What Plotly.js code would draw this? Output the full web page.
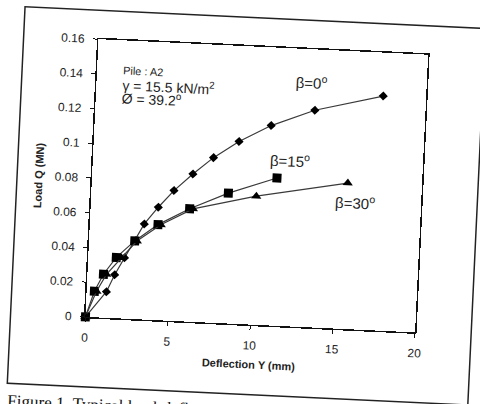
<!DOCTYPE html>
<html>
<head>
<meta charset="utf-8">
<script src="https://cdn.plot.ly/plotly-3.0.1.min.js"></script>
<style>
  html, body { margin:0; padding:0; width:480px; height:404px; overflow:hidden; background:#fff; }
  #chart { position:absolute; left:-20px; top:-20px; width:520px; height:460px;
           transform-origin:260px 222px; transform:rotate(2.7deg); }
</style>
</head>
<body>
<div id="chart"></div>
<script>
// Deflection Y (mm) and Load Q (MN) for each inclination
const defl0  = [0, 1.2, 1.65, 2.2, 2.8, 3.3, 4.1, 5.0, 6.1, 7.3, 8.8, 10.7, 13.3, 17.4];
const load0  = [0, 0.015, 0.025, 0.035, 0.045, 0.055, 0.065, 0.075, 0.085, 0.095, 0.105, 0.115, 0.125, 0.135];
const defl15 = [0, 0.47, 0.97, 1.7, 2.77, 4.13, 6.0, 8.3, 11.2];
const load15 = [0, 0.015, 0.025, 0.035, 0.045, 0.055, 0.065, 0.075, 0.085];
const defl30 = [0, 0.6, 1.15, 2.0, 2.9, 4.3, 6.2, 10.0, 15.5];
const load30 = [0, 0.015, 0.025, 0.035, 0.045, 0.055, 0.065, 0.074, 0.084];

const xTickVals = [0, 5, 10, 15, 20];
const xTickText = ['0', '5', '10', '15', '20'];
const yTickVals = [0, 0.02, 0.04, 0.06, 0.08, 0.1, 0.12, 0.14, 0.16];
const yTickText = ['0', '0.02', '0.04', '0.06', '0.08', '0.1', '0.12', '0.14', '0.16'];

const seriesNames = ['β=0<sup>o</sup>', 'β=15<sup>o</sup>', 'β=30<sup>o</sup>'];
const infoLines = ['Pile : A2', 'γ = 15.5 kN/m<sup>2</sup>', 'Ø = 39.2<sup>o</sup>'];
const caption = 'Figure 1. Typical load-deflection curves';

const lineStyle = {color:'#3a3a3a', width:1.2};
const traces = [
  {x:defl0, y:load0, name:'β=0º', mode:'lines+markers', line:lineStyle,
   marker:{symbol:'diamond', size:7, color:'#000'}, cliponaxis:false},
  {x:defl15, y:load15, name:'β=15º', mode:'lines+markers', line:lineStyle,
   marker:{symbol:'square', size:9, color:'#000'}, cliponaxis:false},
  {x:defl30, y:load30, name:'β=30º', mode:'lines+markers', line:lineStyle,
   marker:{symbol:'triangle-up', size:9, color:'#000'}, cliponaxis:false}
];

const txt = {family:'Liberation Sans, Arial, sans-serif', color:'#222'};
const lab = {family:txt.family, size:15, color:'#222'};
const layout = {
  width:520, height:460,
  margin:{l:111, r:79, t:66, b:116},
  paper_bgcolor:'#fff', plot_bgcolor:'#fff',
  showlegend:false,
  font:txt,
  xaxis:{
    range:[0,20], tickvals:xTickVals, ticktext:xTickText,
    showgrid:false, zeroline:false, showline:true, linecolor:'#111', linewidth:1.5, mirror:true,
    ticks:'outside', ticklen:4, tickcolor:'#111', ticklabelstandoff:5,
    tickfont:{family:txt.family, size:12, color:'#222'},
    title:{text:'<b>Deflection Y (mm)</b>', font:{family:txt.family, size:11, color:'#222'}, standoff:9}
  },
  yaxis:{
    range:[0,0.16], tickvals:yTickVals, ticktext:yTickText,
    showgrid:false, zeroline:false, showline:true, linecolor:'#111', linewidth:1.5, mirror:true,
    ticks:'outside', ticklen:4, tickcolor:'#111', ticklabelstandoff:6,
    tickfont:{family:txt.family, size:12, color:'#222'},
    title:{text:'<b>Load Q (MN)</b>', font:{family:txt.family, size:11, color:'#222'}, standoff:9}
  },
  annotations:[
    {x:13.05, y:0.1412, xref:'x', yref:'y', text:seriesNames[0], showarrow:false, font:lab},
    {x:11.94, y:0.0957, xref:'x', yref:'y', text:seriesNames[1], showarrow:false, font:lab},
    {x:16.0, y:0.0735, xref:'x', yref:'y', text:seriesNames[2], showarrow:false, font:lab},
    {x:1.45, y:0.143, xref:'x', yref:'y', text:infoLines[0], showarrow:false, xanchor:'left',
     font:{family:txt.family, size:11, color:'#222'}},
    {x:1.45, y:0.1345, xref:'x', yref:'y', text:infoLines[1], showarrow:false, xanchor:'left',
     font:{family:txt.family, size:14, color:'#222'}},
    {x:1.45, y:0.1272, xref:'x', yref:'y', text:infoLines[2], showarrow:false, xanchor:'left',
     font:{family:txt.family, size:14, color:'#222'}},
    {x:-0.2315, y:-0.313, xref:'paper', yref:'paper', text:caption, showarrow:false,
     xanchor:'left', yanchor:'middle',
     font:{family:'Liberation Serif, Times New Roman, serif', size:17, color:'#111'}}
  ],
  shapes:[
    {type:'rect', xref:'paper', yref:'paper', x0:-0.227, x1:1.170, y0:-0.252, y1:1.104,
     line:{color:'#222', width:1.5}, fillcolor:'rgba(0,0,0,0)'}
  ]
};

Plotly.newPlot('chart', traces, layout, {displayModeBar:false, staticPlot:true});
</script>
</body>
</html>
